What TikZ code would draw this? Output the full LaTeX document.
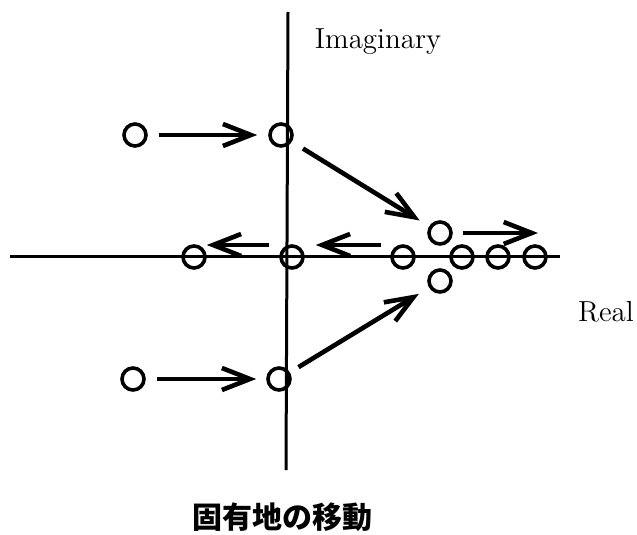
\documentclass[tikz,border=0pt]{standalone}
\usepackage{fontspec}
\usetikzlibrary{arrows.meta}
\newfontfamily\jpfont{Noto Sans CJK JP}

\begin{document}
\begin{tikzpicture}[x=0.5pt,y=-0.5pt,
    >={Straight Barb[length=14pt,width=11pt]},
    pole/.style={draw,circle,line width=1.8pt,minimum size=11pt,inner sep=0pt},
    mv/.style={->,line width=2.3pt}]
		  \useasboundingbox (0,0) rectangle (637,535);
		  % axes
		  \draw[line width=1.5pt] (10,256) -- (560,256);
		  \draw[line width=1.5pt] (288,12) -- (286,470);
		  \node at (378,42) {\fontsize{14.5}{17}\selectfont Imaginary};
		  \node at (606,312) {\fontsize{14.5}{17}\selectfont Real};
		  % poles
		  \node[pole] (p1) at (135,135) {};
		  \node[pole] (p2) at (281,135) {};
		  \node[pole] (p3) at (440,233) {};
		  \node[pole] (p4) at (440,281) {};
		  \node[pole] (p5) at (133,379) {};
		  \node[pole] (p6) at (279,379) {};
		  \node[pole] (r1) at (194,257) {};
		  \node[pole] (r2) at (292,257) {};
		  \node[pole] (r3) at (403,257) {};
		  \node[pole] (r4) at (462,257) {};
		  \node[pole] (r5) at (498,257) {};
		  \node[pole] (r6) at (535,257) {};
		  \coordinate (q) at (538,233);
		  % movement
		  \draw[mv,shorten <=5.5pt,shorten >=5.5pt] (p1) -- (p2);
		  \draw[mv,shorten <=5.5pt,shorten >=5pt] (p5) -- (p6);
		  \draw[mv,shorten <=6.5pt,shorten >=5.5pt] (p2) -- (p3);
		  \draw[mv,shorten <=5pt,shorten >=6pt] (p6) -- (p4);
		  \draw[mv,shorten <=5pt] (p3) -- (q);
		  \draw[mv,shorten <=5pt] ([yshift=6pt]r2.west) -- ([yshift=6pt]r1.east);
		  \draw[mv,shorten <=4.5pt,shorten >=5.5pt] ([yshift=6pt]r3.west) -- ([yshift=6pt]r2.east);
		  \node at (282,517) {\jpfont\bfseries\fontsize{15}{18}\selectfont 固有地の移動};
		\end{tikzpicture}
\end{document}
